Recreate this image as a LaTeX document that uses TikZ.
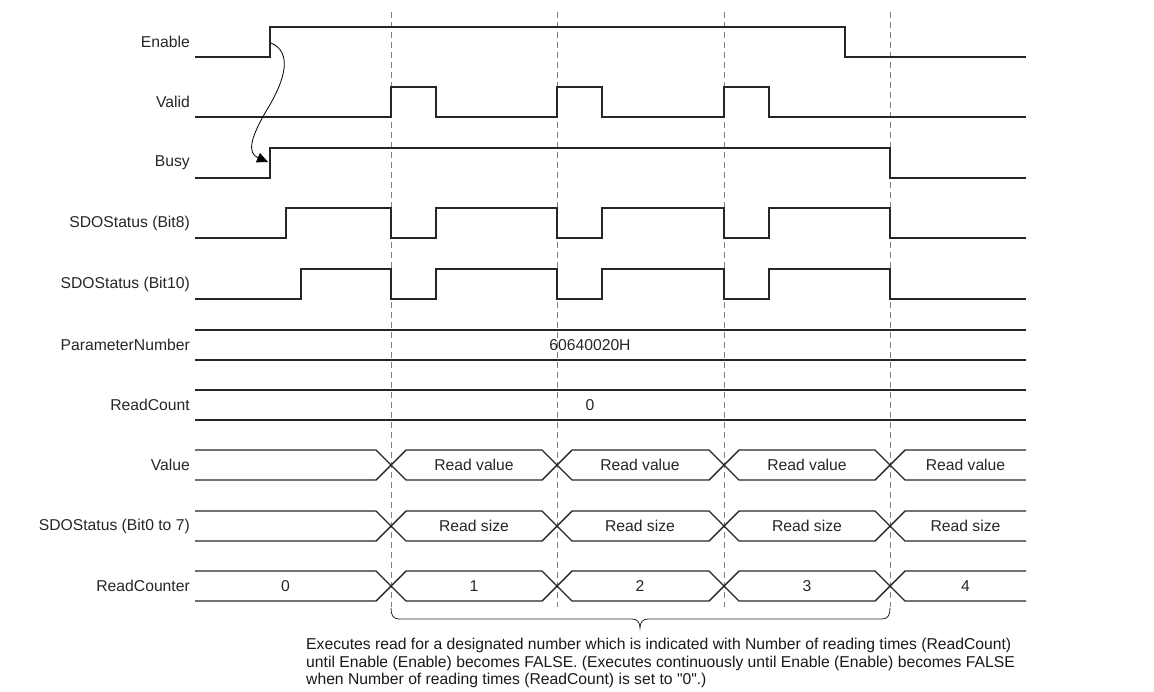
\documentclass[tikz,border=0pt]{standalone}
\usepackage{fontspec}
\setmainfont{Liberation Sans}
\newfontfamily\plainsans{Liberation Sans}
\usetikzlibrary{arrows.meta}
\begin{document}
\begin{tikzpicture}[x=1pt,y=-1pt,
  sig/.style={line width=1.4pt, draw=black!85, line join=miter},
  guide/.style={draw=black!50, line width=1pt, dash pattern=on 6pt off 4pt},
  lbl/.style={anchor=east, font=\fontsize{15.7}{18}\selectfont, text=black!85, inner sep=0pt},
  val/.style={font=\fontsize{15.7}{18}\selectfont, text=black!85, inner sep=0pt},
  cause/.style={line width=0.8pt, draw=black, -{Triangle[length=11pt,width=10pt]}},
  brc/.style={draw=black!85, line width=0.8pt}
]
\useasboundingbox (0,0) rectangle (1154,691);

% guide lines
\foreach \x in {391,557,724,890}
  \draw[guide] (\x,12) -- (\x,607);

% labels
\node[lbl] (lEnable) at (190,42) {Enable};
\node[lbl] (lValid) at (190,102) {Valid};
\node[lbl] (lBusy) at (190,163) {Busy};
\node[lbl] (lBit8) at (190,223) {SDOStatus (Bit8)};
\node[lbl] (lBit10) at (190,284) {SDOStatus (Bit10)};
\node[lbl] (lParam) at (190,345) {ParameterNumber};
\node[lbl] (lRC) at (190,405) {ReadCount};
\node[lbl] (lValue) at (190,465) {Value};
\node[lbl] (lBit07) at (190,526) {SDOStatus (Bit0 to 7)};
\node[lbl] (lCounter) at (190,586) {ReadCounter};

% Enable
\draw[sig] (195,57) -- (270,57) -- (270,27) -- (845,27) -- (845,57) -- (1026,57);
% Valid
\draw[sig] (195,117) -- (391,117) -- (391,87) -- (436,87) -- (436,117) -- (557,117) -- (557,87) -- (602,87) -- (602,117)
  -- (724,117) -- (724,87) -- (769,87) -- (769,117) -- (1026,117);
% Busy
\draw[sig] (195,178) -- (270,178) -- (270,148) -- (890,148) -- (890,178) -- (1026,178);
% SDOStatus Bit8
\draw[sig] (195,238) -- (286,238) -- (286,208) -- (391,208) -- (391,238) -- (436,238) -- (436,208) -- (557,208) -- (557,238)
  -- (602,238) -- (602,208) -- (724,208) -- (724,238) -- (769,238) -- (769,208) -- (890,208) -- (890,238) -- (1026,238);
% SDOStatus Bit10
\draw[sig] (195,299) -- (301,299) -- (301,269) -- (391,269) -- (391,299) -- (436,299) -- (436,269) -- (557,269) -- (557,299)
  -- (602,299) -- (602,269) -- (724,269) -- (724,299) -- (769,299) -- (769,269) -- (890,269) -- (890,299) -- (1026,299);
% ParameterNumber
\draw[sig] (195,330) -- (1026,330);
\draw[sig] (195,360) -- (1026,360);
\node[val] (vParam) at (590,345) {60640020H};
% ReadCount
\draw[sig] (195,390) -- (1026,390);
\draw[sig] (195,420) -- (1026,420);
\node[val] (vRC) at (590,405) {0};

% buses
\foreach \t in {450,511,571} {
  \pgfmathsetmacro{\b}{\t+30}
  \draw[sig] (195,\t) -- (376,\t) -- (406,\b) -- (542,\b) -- (572,\t) -- (709,\t) -- (739,\b) -- (875,\b) -- (905,\t) -- (1026,\t);
  \draw[sig] (195,\b) -- (376,\b) -- (406,\t) -- (542,\t) -- (572,\b) -- (709,\b) -- (739,\t) -- (875,\t) -- (905,\b) -- (1026,\b);
}
\node[val] (v1) at (474,465) {Read value};
\node[val] (v2) at (640,465) {Read value};
\node[val] (v3) at (807,465) {Read value};
\node[val] (v4) at (965.5,465) {Read value};
\node[val] (s1) at (474,526) {Read size};
\node[val] (s2) at (640,526) {Read size};
\node[val] (s3) at (807,526) {Read size};
\node[val] (s4) at (965.5,526) {Read size};
\node[val] (c0) at (285.5,586) {0};
\node[val] (c1) at (474,586) {1};
\node[val] (c2) at (640,586) {2};
\node[val] (c3) at (807,586) {3};
\node[val] (c4) at (965.5,586) {4};

% cause arrow Enable -> Busy
\coordinate (enrise) at (271,43);
\coordinate (busyrise) at (268,162);
\draw[cause] (enrise) .. controls (292,52) and (286,78) .. (268,108) .. controls (250,138) and (247,153) .. (busyrise);

% brace and note
\coordinate (bl) at (391,608);
\coordinate (br) at (890,608);
\coordinate (btip) at (640,628);
\draw[brc] (bl) .. controls (391,615) and (393,619) .. (399,619) -- (632,619)
  .. controls (637,619) and (640,622) .. (btip)
  .. controls (640,622) and (643,619) .. (648,619) -- (882,619)
  .. controls (888,619) and (890,615) .. (br);
\node[anchor=north west, align=left, inner sep=0pt, font=\plainsans\fontsize{15.7}{17.5}\selectfont, text=black!90] (note) at (306,638)
  {Executes read for a designated number which is indicated with Number of reading times (ReadCount)\\
   until Enable (Enable) becomes FALSE. (Executes continuously until Enable (Enable) becomes FALSE\\
   when Number of reading times (ReadCount) is set to "0".)};
\end{tikzpicture}
\end{document}
